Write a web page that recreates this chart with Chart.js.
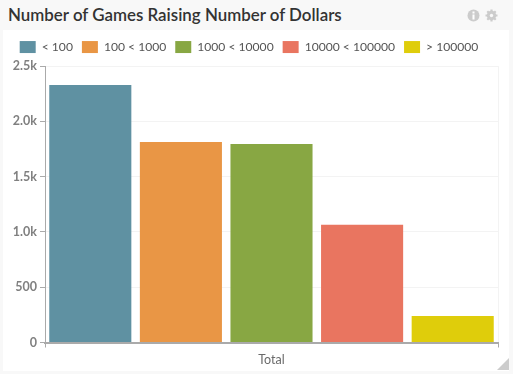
<!DOCTYPE html>
<html><head><meta charset="utf-8">
<style>
html,body{margin:0;padding:0;background:#f8f8f8;width:513px;height:374px;overflow:hidden}
#card{position:absolute;left:3px;top:30px;width:506px;height:341px;background:#fff}
#title{position:absolute;left:8px;top:4px;font:600 16.9px Lato,sans-serif;color:#333;white-space:nowrap}
#chart{position:absolute;left:0;top:0}
#grip{position:absolute;left:497px;top:358px;width:12px;height:12px;background:#ccc;clip-path:polygon(100% 0,100% 100%,0 100%)}
svg.ic{position:absolute;top:9px;width:13px;height:13px}
</style></head><body>
<div id="card"></div>
<div id="title">Number of Games Raising Number of Dollars</div>
<svg class="ic" style="left:467px" viewBox="0 0 13 13"><circle cx="6.5" cy="6.5" r="6" fill="#ccc"/><rect x="5.5" y="5.5" width="2" height="5" fill="#fff"/><rect x="5.5" y="2.5" width="2" height="2" fill="#fff"/></svg>
<svg class="ic" style="left:485px" viewBox="0 0 13 13"><circle cx="6.5" cy="6.5" r="3.4" fill="none" stroke="#ccc" stroke-width="2.6"/><path d="M6.5 .5V12.5M.5 6.5H12.5M2.3 2.3L10.7 10.7M10.7 2.3L2.3 10.7" stroke="#ccc" stroke-width="2.2"/><circle cx="6.5" cy="6.5" r="1.7" fill="#f8f8f8"/></svg>
<canvas id="chart" width="513" height="374"></canvas>
<div id="grip"></div>
<script src="https://cdn.jsdelivr.net/npm/chart.js@4"></script>
<script>
const categories = ['Total'];
const seriesNames = ['< 100', '100 < 1000', '1000 < 10000', '10000 < 100000', '> 100000'];
const seriesValues = [2328, 1813, 1795, 1064, 240];
const seriesColors = ['#5f91a2', '#e99645', '#88a743', '#e97560', '#dfcd0b'];
const yTicks = {0:'0',500:'500',1000:'1.0k',1500:'1.5k',2000:'2.0k',2500:'2.5k'};

const legendGap = {
  id:'legendGap',
  beforeLayout(chart){
    const l = chart.legend;
    if(l && !l._wrapped){
      const f = l.fit;
      l.fit = function(){ f.call(this); this.height += 3; };
      l._wrapped = true;
    }
  }
};

new Chart(document.getElementById('chart'), {
  type: 'bar',
  data: {
    labels: categories,
    datasets: seriesNames.map((n,i)=>({label:n,data:[seriesValues[i]],backgroundColor:seriesColors[i],categoryPercentage:1,barPercentage:0.906}))
  },
  plugins:[legendGap],
  options: {
    responsive:false, animation:false,
    layout:{padding:{top:32,left:0,right:15,bottom:0}},
    plugins:{
      tooltip:{enabled:false},
      legend:{position:'top',align:'center',labels:{boxWidth:16,boxHeight:12,padding:9,color:'#555',font:{family:'Lato',size:12.1}}}
    },
    scales:{
      x:{
        afterFit(s){s.height=31.5},
        grid:{color:'#f3f3f3',tickColor:'#aaa',tickLength:5,drawOnChartArea:true},
        border:{color:'#aaa',width:2},
        ticks:{color:'#6a6a6a',font:{family:'Lato',size:12.5},padding:5}
      },
      y:{
        min:0,max:2500,
        afterFit(s){s.width=45},
        grid:{color:'#f3f3f3',tickColor:'#aaa',tickLength:5},
        border:{color:'#aaa',width:1},
        ticks:{stepSize:500,color:'#808080',font:{family:'Lato',size:12.5,weight:'bold'},padding:3,callback:v=>yTicks[v]}
      }
    }
  }
});
</script>
</body></html>
